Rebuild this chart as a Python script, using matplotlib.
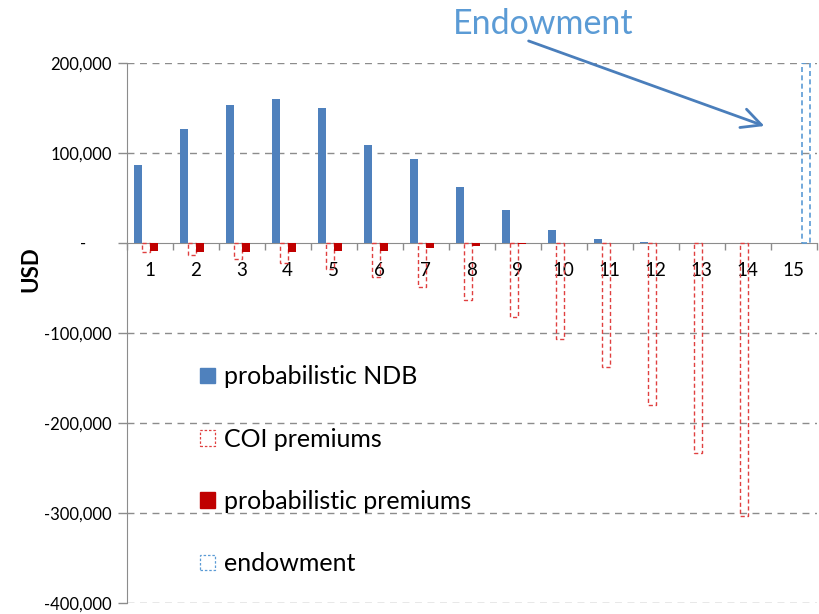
import matplotlib
matplotlib.use("Agg")
import matplotlib.pyplot as plt
import numpy as np
from matplotlib.patches import Patch
from matplotlib.ticker import FuncFormatter

plt.rcParams['font.family'] = ['Lato', 'DejaVu Sans']

# ---------------- DATA ----------------
years = [str(i) for i in range(1, 16)]
ndb = [86000, 126300, 153000, 160000, 149300, 108600, 92600, 61900, 36000,
       14100, 4100, 1100, 0, 0, 0]
coi_premiums = [-10700, -13700, -17800, -22600, -28900, -38000, -49000, -63700,
                -82900, -107000, -138400, -180000, -234000, -303700, 0]
prob_premiums = [-9600, -10700, -10700, -10700, -9600, -8900, -6200, -3700,
                 -1800, -600, -200, 0, 0, 0, 0]
endowment = [0] * 14 + [200000]

# ---------------- COLORS ----------------
BLUE = '#4F81BD'
RED = '#C00000'
RED_DASH = '#E04040'
BLUE_DASH = '#5B9BD5'
GRID = '#8C8C8C'


def nz(vals):
    # empty years get no bar at all (otherwise the outline shows at zero)
    a = np.array(vals, dtype=float)
    a[a == 0] = np.nan
    return a


fig = plt.figure(figsize=(8.19, 6.14), dpi=100)
ax = fig.add_axes([0.1547, 0.0184, 0.8425, 0.8795])

x = np.arange(len(years))
w = 0.174

ax.bar(x - 1.5 * w, nz(ndb), w, color=BLUE, zorder=3)
ax.bar(x - 0.5 * w, nz(coi_premiums), w, facecolor='none', edgecolor=RED_DASH,
       linestyle=(0, (3, 2)), linewidth=1.0, zorder=3)
ax.bar(x + 0.5 * w, nz(prob_premiums), w, color=RED, zorder=3)
ax.bar(x + 1.5 * w, nz(endowment), w, facecolor='none', edgecolor=BLUE_DASH,
       linestyle=(0, (3, 2)), linewidth=1.2, zorder=3)

ax.set_xlim(-0.5, len(years) - 0.5)
ax.set_ylim(-400000, 200000)

# horizontal dashed grid
ax.set_yticks(np.arange(-400000, 200001, 100000))
for y in np.arange(-400000, 200001, 100000):
    if y != 0:
        ax.axhline(y, color=GRID, linestyle=(0, (5, 4)), linewidth=1.0, zorder=1)


def usd(v, pos):
    if v == 0:
        return '-      '
    return f'{int(v):,}'


ax.yaxis.set_major_formatter(FuncFormatter(usd))
ax.tick_params(axis='y', direction='out', length=6.5, width=1, color=GRID,
               labelsize=12, pad=4)

# category axis sits on zero
ax.spines['bottom'].set_position(('data', 0))
ax.spines['bottom'].set_color(GRID)
ax.spines['left'].set_color(GRID)
ax.spines['top'].set_visible(False)
ax.spines['right'].set_visible(False)
ax.set_xticks(x)
ax.set_xticklabels(years)
ax.set_xticks(np.arange(-0.5, len(years)), minor=True)
ax.tick_params(axis='x', which='major', length=0, labelsize=13.5, pad=14)
ax.tick_params(axis='x', which='minor', direction='out', length=5, width=1, color=GRID)

ax.set_ylabel('USD', fontsize=16, fontweight='bold')
ax.yaxis.set_label_coords(-0.123, 0.618)

handles = [
    Patch(facecolor=BLUE, edgecolor=BLUE),
    Patch(facecolor='none', edgecolor=RED_DASH, linestyle=(0, (2, 1.5)), linewidth=0.9),
    Patch(facecolor=RED, edgecolor=RED),
    Patch(facecolor='none', edgecolor=BLUE_DASH, linestyle=(0, (2, 1.5)), linewidth=0.9),
]
labels = ['probabilistic NDB', 'COI premiums', 'probabilistic premiums', 'endowment']
ax.legend(handles, labels, loc='upper left', bbox_to_anchor=(0.092, 0.458),
          frameon=False, fontsize=18, handlelength=0.58, handleheight=0.58,
          handletextpad=0.37, labelspacing=1.57, borderaxespad=0)

# callout for the maturity payment
fig.text(543 / 819, 1 - 24 / 614, 'Endowment', color=BLUE_DASH, fontsize=24.5,
         ha='center', va='center')
ax.annotate('', xy=(13.42, 128600), xytext=(526, 614 - 40),
            textcoords='figure pixels',
            arrowprops=dict(arrowstyle='->, head_length=0.7, head_width=0.35',
                            color='#4A7EBB', lw=2, mutation_scale=20))

fig.savefig('out.png', dpi=100)
